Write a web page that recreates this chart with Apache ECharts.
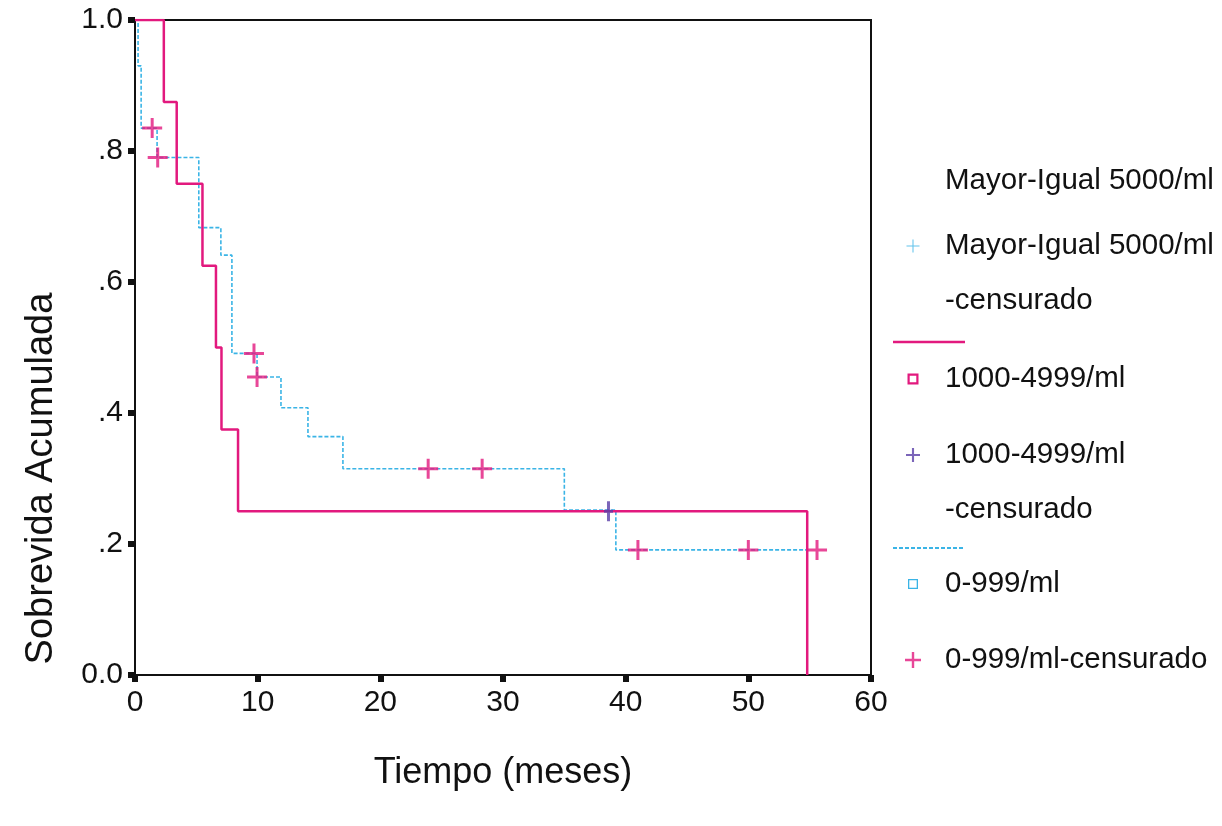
<!DOCTYPE html>
<html lang="es">
<head>
<meta charset="utf-8">
<title>Sobrevida acumulada</title>
<script src="https://cdn.jsdelivr.net/npm/echarts@6/dist/echarts.min.js"></script>
<style>
  html, body { margin: 0; padding: 0; background: #fff; }
  #km { width: 1222px; height: 826px; }
</style>
</head>
<body>
<div id="km"></div>
<script>
// curva 1000-4999/ml (meses, sobrevida)
const tiempo1000 = [0, 2.35, 3.4, 5.5, 6.6, 7.05, 8.4, 54.8];
const sobrev1000 = [1, 0.875, 0.75, 0.625, 0.5, 0.375, 0.25, 0];
const censTiempo1000 = [38.6];
const censSobrev1000 = [0.25];

// curva 0-999/ml
const tiempo0999 = [0, 0.25, 0.5, 1.8, 5.2, 7.0, 7.9, 9.95, 11.9, 14.1, 16.95, 35.0, 39.2, 54.7];
const sobrev0999 = [1, 0.93, 0.835, 0.79, 0.683, 0.641, 0.491, 0.455, 0.408, 0.364, 0.315, 0.252, 0.191, 0.191];
const censTiempo0999 = [1.4, 1.85, 9.7, 9.95, 23.9, 28.3, 41.0, 50.0, 55.6];
const censSobrev0999 = [0.835, 0.79, 0.491, 0.455, 0.315, 0.315, 0.191, 0.191, 0.191];

// Mayor-Igual 5000/ml: sin datos en la figura
const tiempo5000 = [];
const sobrev5000 = [];

const xTicks = ['0', '10', '20', '30', '40', '50', '60'];
const yTicks = ['0.0', '.2', '.4', '.6', '.8', '1.0'];

const ROSA = '#e2197e';
const CIAN = '#3ab4e6';
const MORADO = '#5a3ea8';
const FUENTE = '"Liberation Sans", Arial, sans-serif';

const CRUZ = 'path://M8.5,0h3v20h-3z M0,8.5h20v3h-20z';
const CRUZ_FINA = 'path://M9.2,0h1.6v20h-1.6z M0,9.2h20v1.6h-20z';
const CRUZ_ALTA = 'path://M3,0h3v20h-3z M0,8.5h9v3h-9z';
const CUADRO = 'path://M0,0h10v10h-10z M2,2v6h6v-6z';
const CUADRO_FINO = 'path://M0,0h10v10h-10z M1.3,1.3v7.4h7.4v-7.4z';
// muestra de linea punteada para la leyenda (72 x 2)
let guiones = 'path://';
for (let x = 0; x < 72; x += 6) guiones += 'M' + x + ',0h4v2h-4z ';

const pares = (xs, ys) => xs.map((t, i) => [t, ys[i]]);

// icono centrado en x=913, texto desde x=945
function leyenda(top, name, icon, color, label, size) {
  const left = 913 - size / 2;
  return {
    top: top,
    left: left,
    padding: 0,
    itemWidth: size,
    itemHeight: size,
    selectedMode: false,
    textStyle: {
      fontFamily: FUENTE, fontSize: 29.5, color: '#111', lineHeight: 34,
      padding: [0, 0, 0, 27 - size / 2]
    },
    formatter: () => label,
    data: [{ name: name, icon: icon, itemStyle: { color: color, borderWidth: 0 } }]
  };
}

// muestra de linea (sin texto)
function muestra(top, name, icon, color, h) {
  return {
    top: top,
    left: 893,
    padding: 0,
    itemWidth: 72,
    itemHeight: h,
    selectedMode: false,
    textStyle: { fontSize: 29.5, lineHeight: 34 },
    formatter: () => ' ',
    data: [{ name: name, icon: icon, itemStyle: { color: color, borderWidth: 0 } }]
  };
}

const chart = echarts.init(document.getElementById('km'));

const option = {
  animation: false,
  backgroundColor: '#fff',
  grid: {
    left: 135, right: 351, top: 20, bottom: 151,
    show: true, borderColor: '#111', borderWidth: 2
  },
  legend: [
    leyenda(164, 'Mayor-Igual 5000/ml', 'rect', 'rgba(0,0,0,0)', 'Mayor-Igual 5000/ml', 14),
    leyenda(229, 'Mayor-Igual 5000/ml-censurado', CRUZ_FINA, CIAN, 'Mayor-Igual 5000/ml', 13),
    leyenda(284, 'Mayor-Igual 5000/ml-censurado', 'rect', 'rgba(0,0,0,0)', '-censurado', 14),
    muestra(325, '1000-4999/ml', 'rect', ROSA, 2.5),
    leyenda(362, '1000-4999/ml', CUADRO, ROSA, '1000-4999/ml', 11),
    leyenda(438, '1000-4999/ml-censurado', CRUZ, MORADO, '1000-4999/ml', 14),
    leyenda(493, '1000-4999/ml-censurado', 'rect', 'rgba(0,0,0,0)', '-censurado', 14),
    muestra(531, '0-999/ml', guiones, CIAN, 2),
    leyenda(567, '0-999/ml', CUADRO_FINO, CIAN, '0-999/ml', 10),
    leyenda(643, '0-999/ml-censurado', CRUZ, ROSA, '0-999/ml-censurado', 16)
  ],
  xAxis: {
    type: 'value',
    min: 0, max: 60, interval: 10,
    name: 'Tiempo (meses)',
    nameLocation: 'middle',
    nameGap: 80,
    nameTextStyle: { fontFamily: FUENTE, fontSize: 36, color: '#111' },
    axisLine: { show: true, lineStyle: { color: '#111', width: 2 } },
    axisTick: { show: true, length: 7, lineStyle: { color: '#111', width: 6 } },
    axisLabel: { fontFamily: FUENTE, fontSize: 30, color: '#111', margin: 13,
      formatter: v => xTicks[Math.round(v / 10)] },
    splitLine: { show: false }
  },
  yAxis: {
    type: 'value',
    min: 0, max: 1, interval: 0.2,
    name: 'Sobrevida Acumulada',
    nameLocation: 'middle',
    nameRotate: 90,
    nameGap: 74,
    nameTextStyle: { fontFamily: FUENTE, fontSize: 38, color: '#111', padding: [0, 262, 0, 0] },
    axisLine: { show: true, lineStyle: { color: '#111', width: 2 } },
    axisTick: { show: true, length: 7, lineStyle: { color: '#111', width: 6 } },
    axisLabel: { fontFamily: FUENTE, fontSize: 30, color: '#111', margin: 12,
      formatter: v => yTicks[Math.round(v / 0.2)] },
    splitLine: { show: false }
  },
  series: [
    {
      name: 'Mayor-Igual 5000/ml',
      type: 'line',
      step: 'end',
      data: pares(tiempo5000, sobrev5000),
      showSymbol: false
    },
    {
      name: 'Mayor-Igual 5000/ml-censurado',
      type: 'scatter',
      data: [],
      symbol: CRUZ_FINA,
      itemStyle: { color: CIAN }
    },
    {
      name: '0-999/ml',
      type: 'line',
      step: 'end',
      data: pares(tiempo0999, sobrev0999),
      showSymbol: false,
      itemStyle: { color: CIAN },
      lineStyle: { color: CIAN, width: 1.6, type: [4, 2] },
      z: 2
    },
    {
      name: '1000-4999/ml',
      type: 'line',
      step: 'end',
      data: pares(tiempo1000, sobrev1000),
      showSymbol: false,
      itemStyle: { color: ROSA },
      lineStyle: { color: ROSA, width: 2.5 },
      z: 3
    },
    {
      name: '1000-4999/ml-censurado',
      type: 'scatter',
      data: pares(censTiempo1000, censSobrev1000),
      symbol: CRUZ_ALTA,
      symbolSize: [9, 20],
      itemStyle: { color: MORADO },
      z: 5
    },
    {
      name: '0-999/ml-censurado',
      type: 'scatter',
      data: pares(censTiempo0999, censSobrev0999),
      symbol: CRUZ,
      symbolSize: 20,
      itemStyle: { color: ROSA },
      z: 4
    }
  ]
};

chart.setOption(option);
window.addEventListener('resize', () => chart.resize());
</script>
</body>
</html>
